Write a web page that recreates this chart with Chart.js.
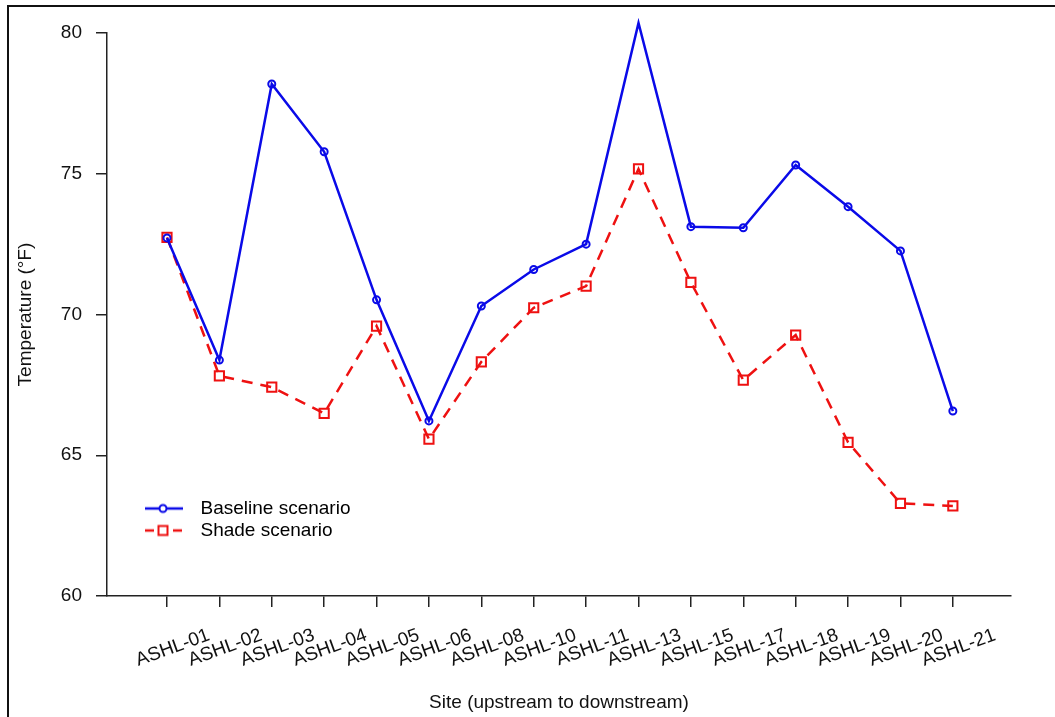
<!DOCTYPE html>
<html>
<head>
<meta charset="utf-8">
<title>Site temperatures</title>
<script src="https://cdn.jsdelivr.net/npm/chart.js@4.4.1/dist/chart.umd.min.js"></script>
<style>
    body { margin: 0; background: #fff; overflow: hidden; }
    #wrap { position: relative; width: 1055px; height: 717px; }
    #frame { position: absolute; left: 7px; top: 5px; width: 1100px; height: 800px;
             border-top: 2px solid #111; border-left: 2px solid #111; }
    canvas { position: absolute; left: 0; top: 0; }
</style>
</head>
<body>
<div id="wrap">
    <div id="frame"></div>
    <canvas id="myChart" width="1055" height="717"></canvas>
</div>
<script>
// Data
const sites = ['ASHL-01', 'ASHL-02', 'ASHL-03', 'ASHL-04', 'ASHL-05', 'ASHL-06', 'ASHL-08', 'ASHL-10',
               'ASHL-11', 'ASHL-13', 'ASHL-15', 'ASHL-17', 'ASHL-18', 'ASHL-19', 'ASHL-20', 'ASHL-21'];
const baseline = [72.72, 68.38, 78.19, 75.78, 70.52, 66.22, 70.30, 71.60,
                  72.50, 80.36, 73.12, 73.08, 75.31, 73.83, 72.26, 66.57];
const shade = [72.74, 67.82, 67.42, 66.49, 69.59, 65.57, 68.32, 70.24,
               71.01, 75.17, 71.14, 67.67, 69.27, 65.46, 63.29, 63.20];
const yTicks = [60, 65, 70, 75, 80];

const blue = '#0a0ae8';
const red = '#ee1111';
const font = 'Liberation Sans, Arial, sans-serif';

// legend swatch: short line with the marker in the middle
function swatch(color, dashed, marker) {
    const c = document.createElement('canvas');
    c.width = 46;
    c.height = 16;
    const g = c.getContext('2d');
    g.strokeStyle = color;
    g.lineWidth = 2.5;
    if (dashed) g.setLineDash([9, 5]);
    g.beginPath();
    g.moveTo(0, 8);
    g.lineTo(38, 8);
    g.stroke();
    g.setLineDash([]);
    g.lineWidth = 2;
    g.fillStyle = '#fff';
    g.beginPath();
    if (marker === 'circle') g.arc(18, 8, 3.5, 0, Math.PI * 2);
    else g.rect(13.5, 3.5, 9, 9);
    g.fill();
    g.stroke();
    return c;
}
const swatches = [swatch(blue, false, 'circle'), swatch(red, true, 'rect')];

// move the legend into the lower left of the plot
const legendSpot = {
    id: 'legendSpot',
    afterLayout(chart) {
        chart.legend.left = 142;
        chart.legend.top = 496;
    }
};

const ctx = document.getElementById('myChart').getContext('2d');
const myChart = new Chart(ctx, {
    type: 'line',
    data: {
        datasets: [{
            label: 'Baseline scenario',
            data: baseline.map((v, i) => ({ x: i + 1, y: v })),
            borderColor: blue,
            borderWidth: 2.5,
            pointStyle: 'circle',
            pointRadius: 3.5,
            pointBorderWidth: 2,
            pointBorderColor: blue,
            pointBackgroundColor: 'rgba(0,0,0,0)',
            clip: false
        }, {
            label: 'Shade scenario',
            data: shade.map((v, i) => ({ x: i + 1, y: v })),
            borderColor: red,
            borderWidth: 2.5,
            borderDash: [11, 8],
            pointStyle: 'rect',
            pointRadius: 6.5,
            pointBorderWidth: 2,
            pointBorderColor: red,
            pointBackgroundColor: 'rgba(0,0,0,0)',
            clip: false
        }]
    },
    options: {
        responsive: false,
        animation: false,
        layout: { padding: { top: 33, right: 44, bottom: 0, left: 0 } },
        plugins: {
            tooltip: { enabled: false },
            legend: {
                position: 'chartArea',
                align: 'start',
                labels: {
                    usePointStyle: true,
                    pointStyleWidth: 46,
                    padding: 3,
                    color: '#111',
                    font: { family: font, size: 19 },
                    generateLabels: (chart) => chart.data.datasets.map((ds, i) => ({
                        text: ds.label,
                        pointStyle: swatches[i],
                        fillStyle: ds.borderColor,
                        strokeStyle: ds.borderColor,
                        lineWidth: 0,
                        datasetIndex: i
                    }))
                }
            }
        },
        scales: {
            x: {
                type: 'linear',
                min: -0.145,
                max: 17.11,
                afterBuildTicks: (scale) => { scale.ticks = sites.map((s, i) => ({ value: i + 1 })); },
                afterFit: (scale) => { scale.height = 121; },
                grid: { drawOnChartArea: false, tickLength: 11, color: '#222', lineWidth: 1.5 },
                border: { color: '#222', width: 1.5 },
                ticks: {
                    autoSkip: false,
                    minRotation: 20,
                    maxRotation: 20,
                    padding: 17,
                    labelOffset: 42,
                    color: '#111',
                    font: { family: font, size: 19 },
                    callback: (value) => sites[value - 1]
                },
                title: {
                    display: true,
                    text: 'Site (upstream to downstream)',
                    color: '#111',
                    font: { family: font, size: 19 },
                    padding: { top: 0, bottom: 3 }
                }
            },
            y: {
                min: 60,
                max: 80,
                afterBuildTicks: (scale) => { scale.ticks = yTicks.map(v => ({ value: v })); },
                afterFit: (scale) => { scale.width = 107; },
                grid: { drawOnChartArea: false, tickLength: 11, color: '#222', lineWidth: 1.5 },
                border: { color: '#222', width: 1.5 },
                ticks: {
                    padding: 14,
                    color: '#111',
                    font: { family: font, size: 19 }
                },
                title: {
                    display: true,
                    text: 'Temperature (°F)',
                    color: '#111',
                    font: { family: font, size: 19 },
                    padding: { top: 14, bottom: 0 }
                }
            }
        }
    },
    plugins: [legendSpot]
});
</script>
</body>
</html>
